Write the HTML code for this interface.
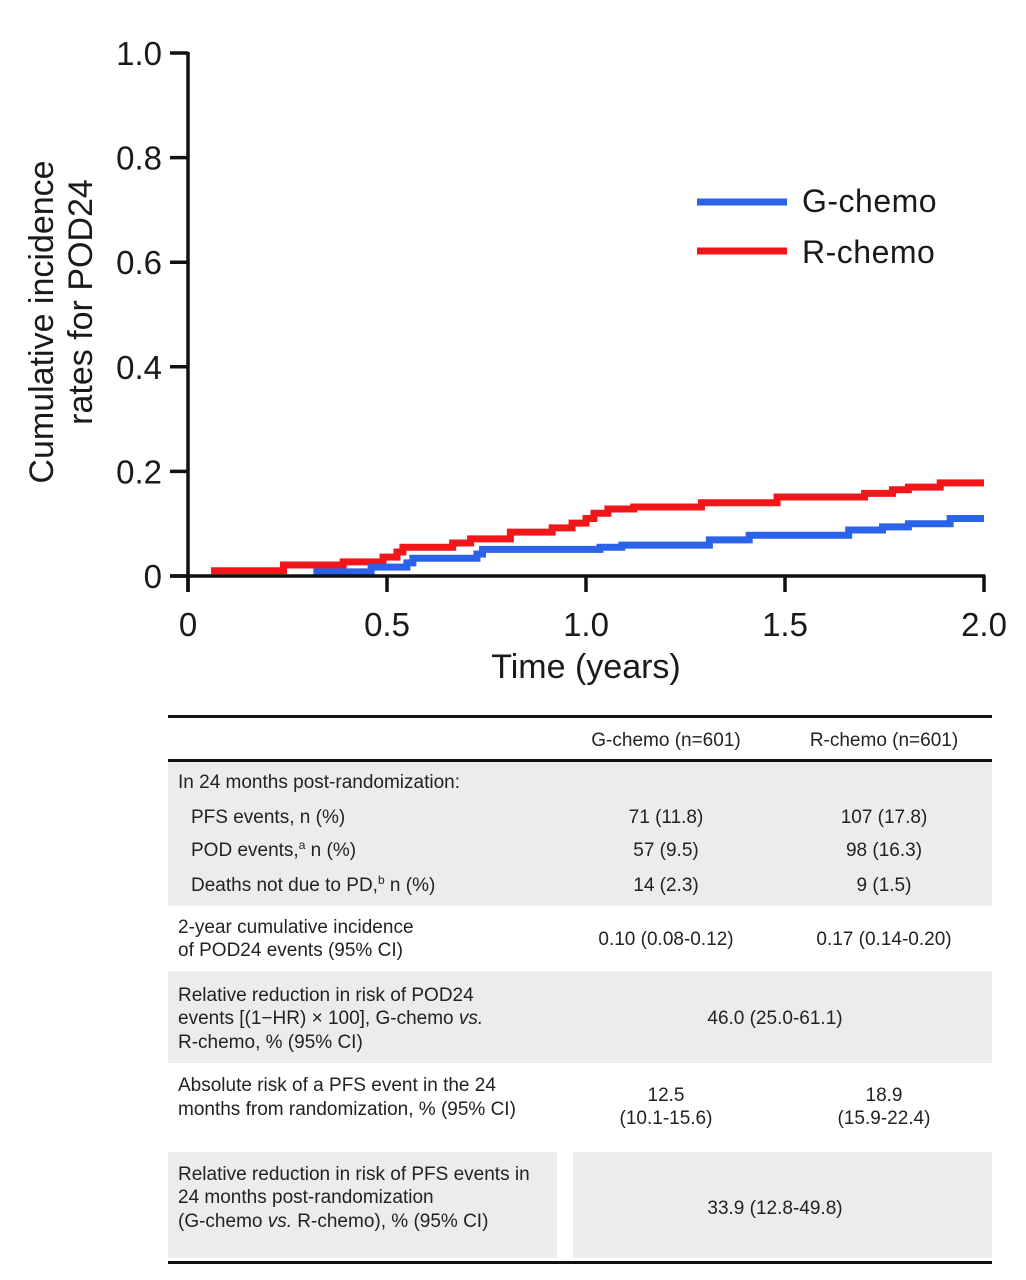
<!DOCTYPE html>
<html><head><meta charset="utf-8"><style>
html,body{margin:0;padding:0;background:#fff}
svg{display:block}
.ax{font-family:"Liberation Sans",sans-serif;fill:#1a1a1a}
.tb{font-family:"Liberation Sans Narrow","Liberation Sans",sans-serif;font-size:19px;fill:#222}
</style></head><body>
<svg id="chart" width="1026" height="1280" viewBox="0 0 1026 1280">
<g id="plot"></g>
<g>
<line x1="697" y1="202" x2="787" y2="202" stroke="#2a62e8" stroke-width="7"/>
<text x="802" y="212" class="ax" font-size="32" letter-spacing="0.5">G-chemo</text>
<line x1="697" y1="251" x2="787" y2="251" stroke="#f0161a" stroke-width="7"/>
<text x="802" y="263" class="ax" font-size="32" letter-spacing="0.5">R-chemo</text>
</g>
<text class="ax" font-size="34" text-anchor="middle" transform="translate(53,322) rotate(-90)">Cumulative incidence</text>
<text class="ax" font-size="34" text-anchor="middle" transform="translate(92,302) rotate(-90)">rates for POD24</text>
<text x="586" y="678" class="ax" font-size="34" text-anchor="middle">Time (years)</text>

<g>
<rect x="168" y="762" width="824" height="144" fill="#ebeded"/>
<rect x="168" y="971" width="824" height="92" fill="#ebeded"/>
<rect x="168" y="1152" width="389" height="106" fill="#ebeded"/>
<rect x="573" y="1152" width="419" height="106" fill="#ebeded"/>
<rect x="168" y="715" width="824" height="3" fill="#111"/>
<rect x="168" y="759" width="824" height="3" fill="#111"/>
<rect x="168" y="1261" width="824" height="3" fill="#111"/>
<text x="666" y="746" class="tb" text-anchor="middle">G-chemo (n=601)</text>
<text x="884" y="746" class="tb" text-anchor="middle">R-chemo (n=601)</text>
<text x="178" y="788" class="tb">In 24 months post-randomization:</text>
<text x="191" y="823" class="tb">PFS events, n (%)</text>
<text x="666" y="823" class="tb" text-anchor="middle">71 (11.8)</text>
<text x="884" y="823" class="tb" text-anchor="middle">107 (17.8)</text>
<text x="191" y="856" class="tb">POD events,<tspan font-size="12" dy="-7">a</tspan><tspan dy="7"> n (%)</tspan></text>
<text x="666" y="856" class="tb" text-anchor="middle">57 (9.5)</text>
<text x="884" y="856" class="tb" text-anchor="middle">98 (16.3)</text>
<text x="191" y="891" class="tb">Deaths not due to PD,<tspan font-size="12" dy="-7">b</tspan><tspan dy="7"> n (%)</tspan></text>
<text x="666" y="891" class="tb" text-anchor="middle">14 (2.3)</text>
<text x="884" y="891" class="tb" text-anchor="middle">9 (1.5)</text>
<text x="178" y="933" class="tb">2-year cumulative incidence</text>
<text x="178" y="956" class="tb">of POD24 events (95% CI)</text>
<text x="666" y="945" class="tb" text-anchor="middle">0.10 (0.08-0.12)</text>
<text x="884" y="945" class="tb" text-anchor="middle">0.17 (0.14-0.20)</text>
<text x="178" y="1001" class="tb">Relative reduction in risk of POD24</text>
<text x="178" y="1024" class="tb">events [(1−HR) × 100], G-chemo <tspan font-style="italic">vs.</tspan></text>
<text x="178" y="1048" class="tb">R-chemo, % (95% CI)</text>
<text x="775" y="1024" class="tb" text-anchor="middle">46.0 (25.0-61.1)</text>
<text x="178" y="1091" class="tb">Absolute risk of a PFS event in the 24</text>
<text x="178" y="1115" class="tb">months from randomization, % (95% CI)</text>
<text x="666" y="1101" class="tb" text-anchor="middle">12.5</text>
<text x="666" y="1124" class="tb" text-anchor="middle">(10.1-15.6)</text>
<text x="884" y="1101" class="tb" text-anchor="middle">18.9</text>
<text x="884" y="1124" class="tb" text-anchor="middle">(15.9-22.4)</text>
<text x="178" y="1180" class="tb">Relative reduction in risk of PFS events in</text>
<text x="178" y="1203" class="tb">24 months post-randomization</text>
<text x="178" y="1227" class="tb">(G-chemo <tspan font-style="italic">vs.</tspan> R-chemo), % (95% CI)</text>
<text x="775" y="1214" class="tb" text-anchor="middle">33.9 (12.8-49.8)</text>
</g>
</svg>
<script>
const xTicks = [0, 0.5, 1.0, 1.5, 2.0];
const xTickLabels = ["0", "0.5", "1.0", "1.5", "2.0"];
const yTicks = [0, 0.2, 0.4, 0.6, 0.8, 1.0];
const yTickLabels = ["0", "0.2", "0.4", "0.6", "0.8", "1.0"];
const redTimes = [0.058, 0.24, 0.39, 0.49, 0.525, 0.54, 0.665, 0.71, 0.81, 0.915, 0.965, 1.0, 1.02, 1.055, 1.12, 1.29, 1.48, 1.70, 1.77, 1.81, 1.89, 2.0];
const redVals  = [0.010, 0.021, 0.027, 0.036, 0.046, 0.055, 0.063, 0.071, 0.084, 0.092, 0.101, 0.110, 0.120, 0.128, 0.132, 0.140, 0.151, 0.158, 0.165, 0.170, 0.178, 0.178];
const blueTimes = [0.315, 0.46, 0.55, 0.565, 0.726, 0.74, 1.035, 1.09, 1.31, 1.41, 1.66, 1.745, 1.81, 1.915, 2.0];
const blueVals  = [0.008, 0.017, 0.025, 0.034, 0.042, 0.051, 0.055, 0.059, 0.069, 0.078, 0.088, 0.094, 0.100, 0.110, 0.110];

const X0 = 188, X1 = 984, Y0 = 576, Y1 = 53;
const xs = t => X0 + (t / 2) * (X1 - X0);
const ys = v => Y0 - v * (Y0 - Y1);
const NS = "http://www.w3.org/2000/svg";
const plot = document.getElementById("plot");
function mk(tag, attrs) { const e = document.createElementNS(NS, tag); for (const k in attrs) e.setAttribute(k, attrs[k]); plot.appendChild(e); return e; }

function stepPath(ts, vs) {
  let d = "M" + xs(ts[0]) + "," + ys(vs[0]);
  for (let i = 1; i < ts.length; i++) {
    d += " H" + xs(ts[i]) + " V" + ys(vs[i]);
  }
  return d;
}
const red = mk("path", { d: stepPath(redTimes, redVals), fill: "none", stroke: "#f0161a", "stroke-width": 7 });


const blue = mk("path", { d: stepPath(blueTimes, blueVals), fill: "none", stroke: "#2a62e8", "stroke-width": 7 });



const yAxis = mk("line", { x1: X0, y1: Y1 - 1, x2: X0, y2: Y0 + 16, stroke: "#111", "stroke-width": 3.5 });


const xAxis = mk("line", { x1: X0 - 18, y1: Y0, x2: X1 + 1.5, y2: Y0, stroke: "#111", "stroke-width": 3.5 });



yTicks.forEach((v, i) => {
  const tk = mk("line", { x1: X0 - 18, y1: ys(v), x2: X0, y2: ys(v), stroke: "#111", "stroke-width": 3.5 });
  
  
  const t = mk("text", { x: 162, y: ys(v) + 12, "text-anchor": "end", "font-size": 33, class: "ax" });
  t.textContent = yTickLabels[i];
  
  
});
xTicks.forEach((v, i) => {
  const tk = mk("line", { x1: xs(v), y1: Y0, x2: xs(v), y2: Y0 + 16, stroke: "#111", "stroke-width": 3.5 });
  
  
  const t = mk("text", { x: xs(v), y: 636, "text-anchor": "middle", "font-size": 33, class: "ax" });
  t.textContent = xTickLabels[i];
  
  
});
</script>
</body></html>
